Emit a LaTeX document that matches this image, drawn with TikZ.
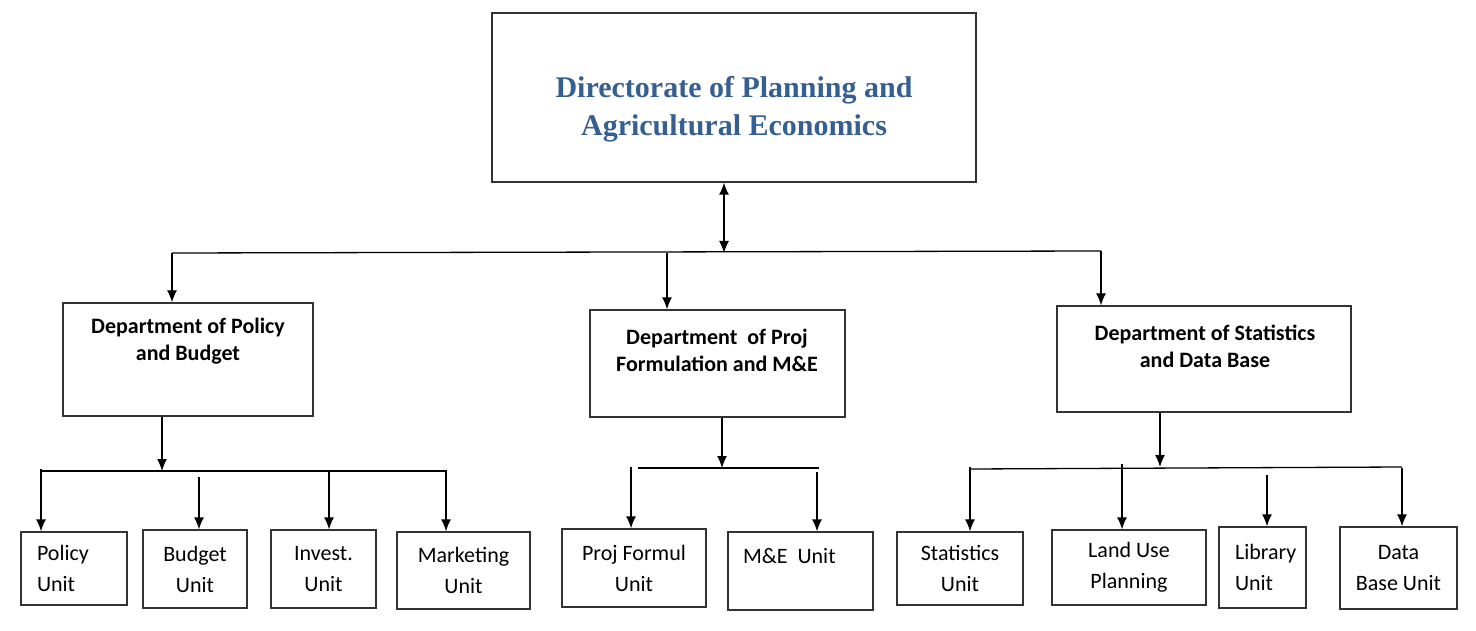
\documentclass[tikz,border=0pt]{standalone}
\usepackage{fontspec}
\setmainfont{Carlito}
\newfontfamily\headfont{Liberation Serif}
\usetikzlibrary{positioning,arrows.meta,calc}
\definecolor{headblue}{RGB}{54,95,145}
\tikzset{box/.style={
    draw=black!80, line width=1.3pt, inner sep=0pt
    },
    headtxt/.style={font=\headfont\bfseries\fontsize{30}{38}\selectfont, text=headblue, align=center},
    depttxt/.style={font=\bfseries\fontsize{22}{27}\selectfont, align=center},
    unit/.style={box, font=\fontsize{22}{31}\selectfont, align=center},
    link/.style={line width=1.3pt}
}

\begin{document}
\begin{tikzpicture}[x=1pt,y=-1pt,>={Latex[length=12pt,width=10pt]}]
	\useasboundingbox (0,0) rectangle (1476,631);
	% directorate
	\node[box,minimum width=484,minimum height=169] (T) at (734,97.5) {};
	\node[headtxt] (Tt) at (734,109) {Directorate of Planning and\\Agricultural Economics};
	% departments
	\node[box,minimum width=250,minimum height=113] (D1) at (188,359.5) {};
	\node[box,minimum width=255,minimum height=107] (D2) at (717.5,363.5) {};
	\node[box,minimum width=294,minimum height=106] (D3) at (1204,359) {};
	\node[depttxt] (D1t) at (188,341.5) {Department of Policy\\and Budget};
	\node[depttxt] (D2t) at (717,350) {Department~~of Proj\\Formulation and M\&E};
	\node[depttxt] (D3t) at (1205,346) {Department of Statistics\\and Data Base};
	% units
	\node[unit,align=left,text width=74,inner xsep=16,minimum height=73] (U1) at (74,568.5) {Policy\\Unit};
	\node[unit,minimum width=104,minimum height=78] (U2) at (195,569) {Budget\\Unit};
	\node[unit,minimum width=105,minimum height=78] (U3) at (323.5,569) {Invest.\\Unit};
	\node[unit,minimum width=133,minimum height=77] (U4) at (463.5,570.5) {Marketing\\Unit};
	\node[unit,minimum width=144,minimum height=78] (U5) at (634,568) {Proj Formul\\Unit};
	\node[unit,align=left,text width=115,inner xsep=15,minimum height=78] (U6) at (800.5,571) {M\&E\hspace{10pt}Unit\\\mbox{}};
	\node[unit,minimum width=126,minimum height=73] (U7) at (960,568.5) {Statistics\\Unit};
	\node[unit,minimum width=154,minimum height=75] (U8) at (1129,567.5) {Land Use\\Planning};
	\node[unit,align=left,text width=55,inner xsep=16,minimum height=81] (U9) at (1262.5,567.5) {Library\\Unit};
	\node[unit,minimum width=117,minimum height=82] (U10) at (1398.5,568) {Data\\Base Unit};
	% top bus
	\coordinate (B0) at (724,253);
	\coordinate (B0L) at (172,253);
	\coordinate (B0M) at (667,253);
	\coordinate (B0R) at (1101,251);
	\draw [link,<->] (B0 |- T.south) -- (B0);
	\draw [link] (B0L) -- (B0R);
	\draw [link,->] (B0L) -- (B0L |- D1.north);
	\draw [link,->] (B0M) -- (B0M |- D2.north);
	\draw [link,->] (B0R) -- (B0R |- D3.north);
	% policy and budget
	\coordinate (B1) at (162,471);
	\draw [link,->] (B1 |- D1.south) -- (B1);
	\draw [link] (41,471) -- (447,471);
	\foreach \x/\y/\u in {41/469/U1,199/477/U2,329/472/U3,446/472/U4}
		\draw [link,->] (\x,\y) -- (\x,0 |- \u.north);
	% proj formulation
	\coordinate (B2) at (722,468);
	\draw [link,->] (B2 |- D2.south) -- (B2);
	\draw [link] (638,468) -- (819,468);
	\foreach \x/\y/\u in {631/467/U5,817/472/U6}
		\draw [link,->] (\x,\y) -- (\x,0 |- \u.north);
	% statistics
	\coordinate (B3) at (1160,467);
	\draw [link,->] (B3 |- D3.south) -- (B3);
	\draw [link] (970,469) -- (1402,467);
	\foreach \x/\y/\u in {970/467/U7,1122/464/U8,1267/475/U9,1402/468/U10}
		\draw [link,->] (\x,\y) -- (\x,0 |- \u.north);
\end{tikzpicture}
\end{document}
